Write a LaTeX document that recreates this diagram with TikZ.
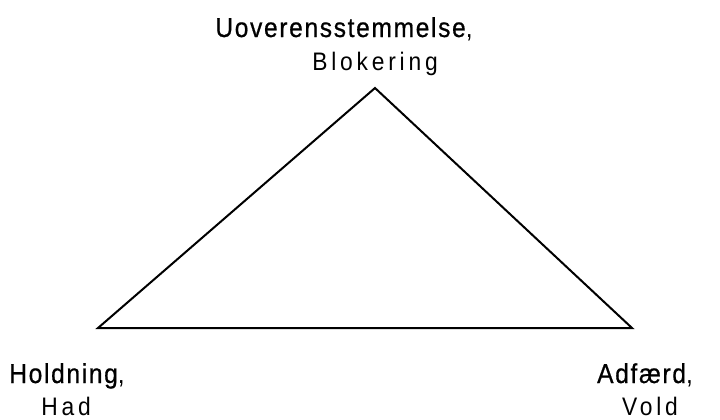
\documentclass[tikz,border=0pt]{standalone}
\usepackage{fontspec}
\setmainfont{Liberation Sans}
\newfontfamily\headfont{Liberation Sans}[LetterSpace=6,FakeStretch=0.9,FakeBold=0.6]
\newfontfamily\plainhead{Liberation Sans}[LetterSpace=6,FakeStretch=0.9]
\newfontfamily\subfont{Liberation Sans}[LetterSpace=15,FakeStretch=0.9]
\usepackage{tikz}
\usetikzlibrary{positioning}

\tikzset{
  headword/.style={anchor=base,inner sep=0pt,font=\headfont\fontsize{20.5}{24}\selectfont},
  subword/.style={anchor=base,inner sep=0pt,font=\subfont\fontsize{19}{22}\selectfont},
  edge/.style={line width=1.5pt,line join=miter}
}

\begin{document}
\begin{tikzpicture}[x=0.75pt,y=-0.75pt]
  \useasboundingbox (0,0) rectangle (720,419);
  % corners of the triangle
  \coordinate (apex) at (375,88);
  \coordinate (left) at (98,328);
  \coordinate (right) at (632,328);
  \draw[edge] (left) -- (apex) -- (right) -- cycle;
  % labels
  \node[headword] (conflict) at (344,37) {Uoverensstemmelse{\plainhead,}};
  \node[subword] (block) at (375,70) {Blokering};
  \node[headword] (attitude) at (67,383) {Holdning{\plainhead,}};
  \node[subword] (hate) at (66,415) {Had};
  \node[headword] (behaviour) at (645,383) {Adfærd{\plainhead,}};
  \node[subword] (violence) at (650,415) {Vold};
\end{tikzpicture}
\end{document}
